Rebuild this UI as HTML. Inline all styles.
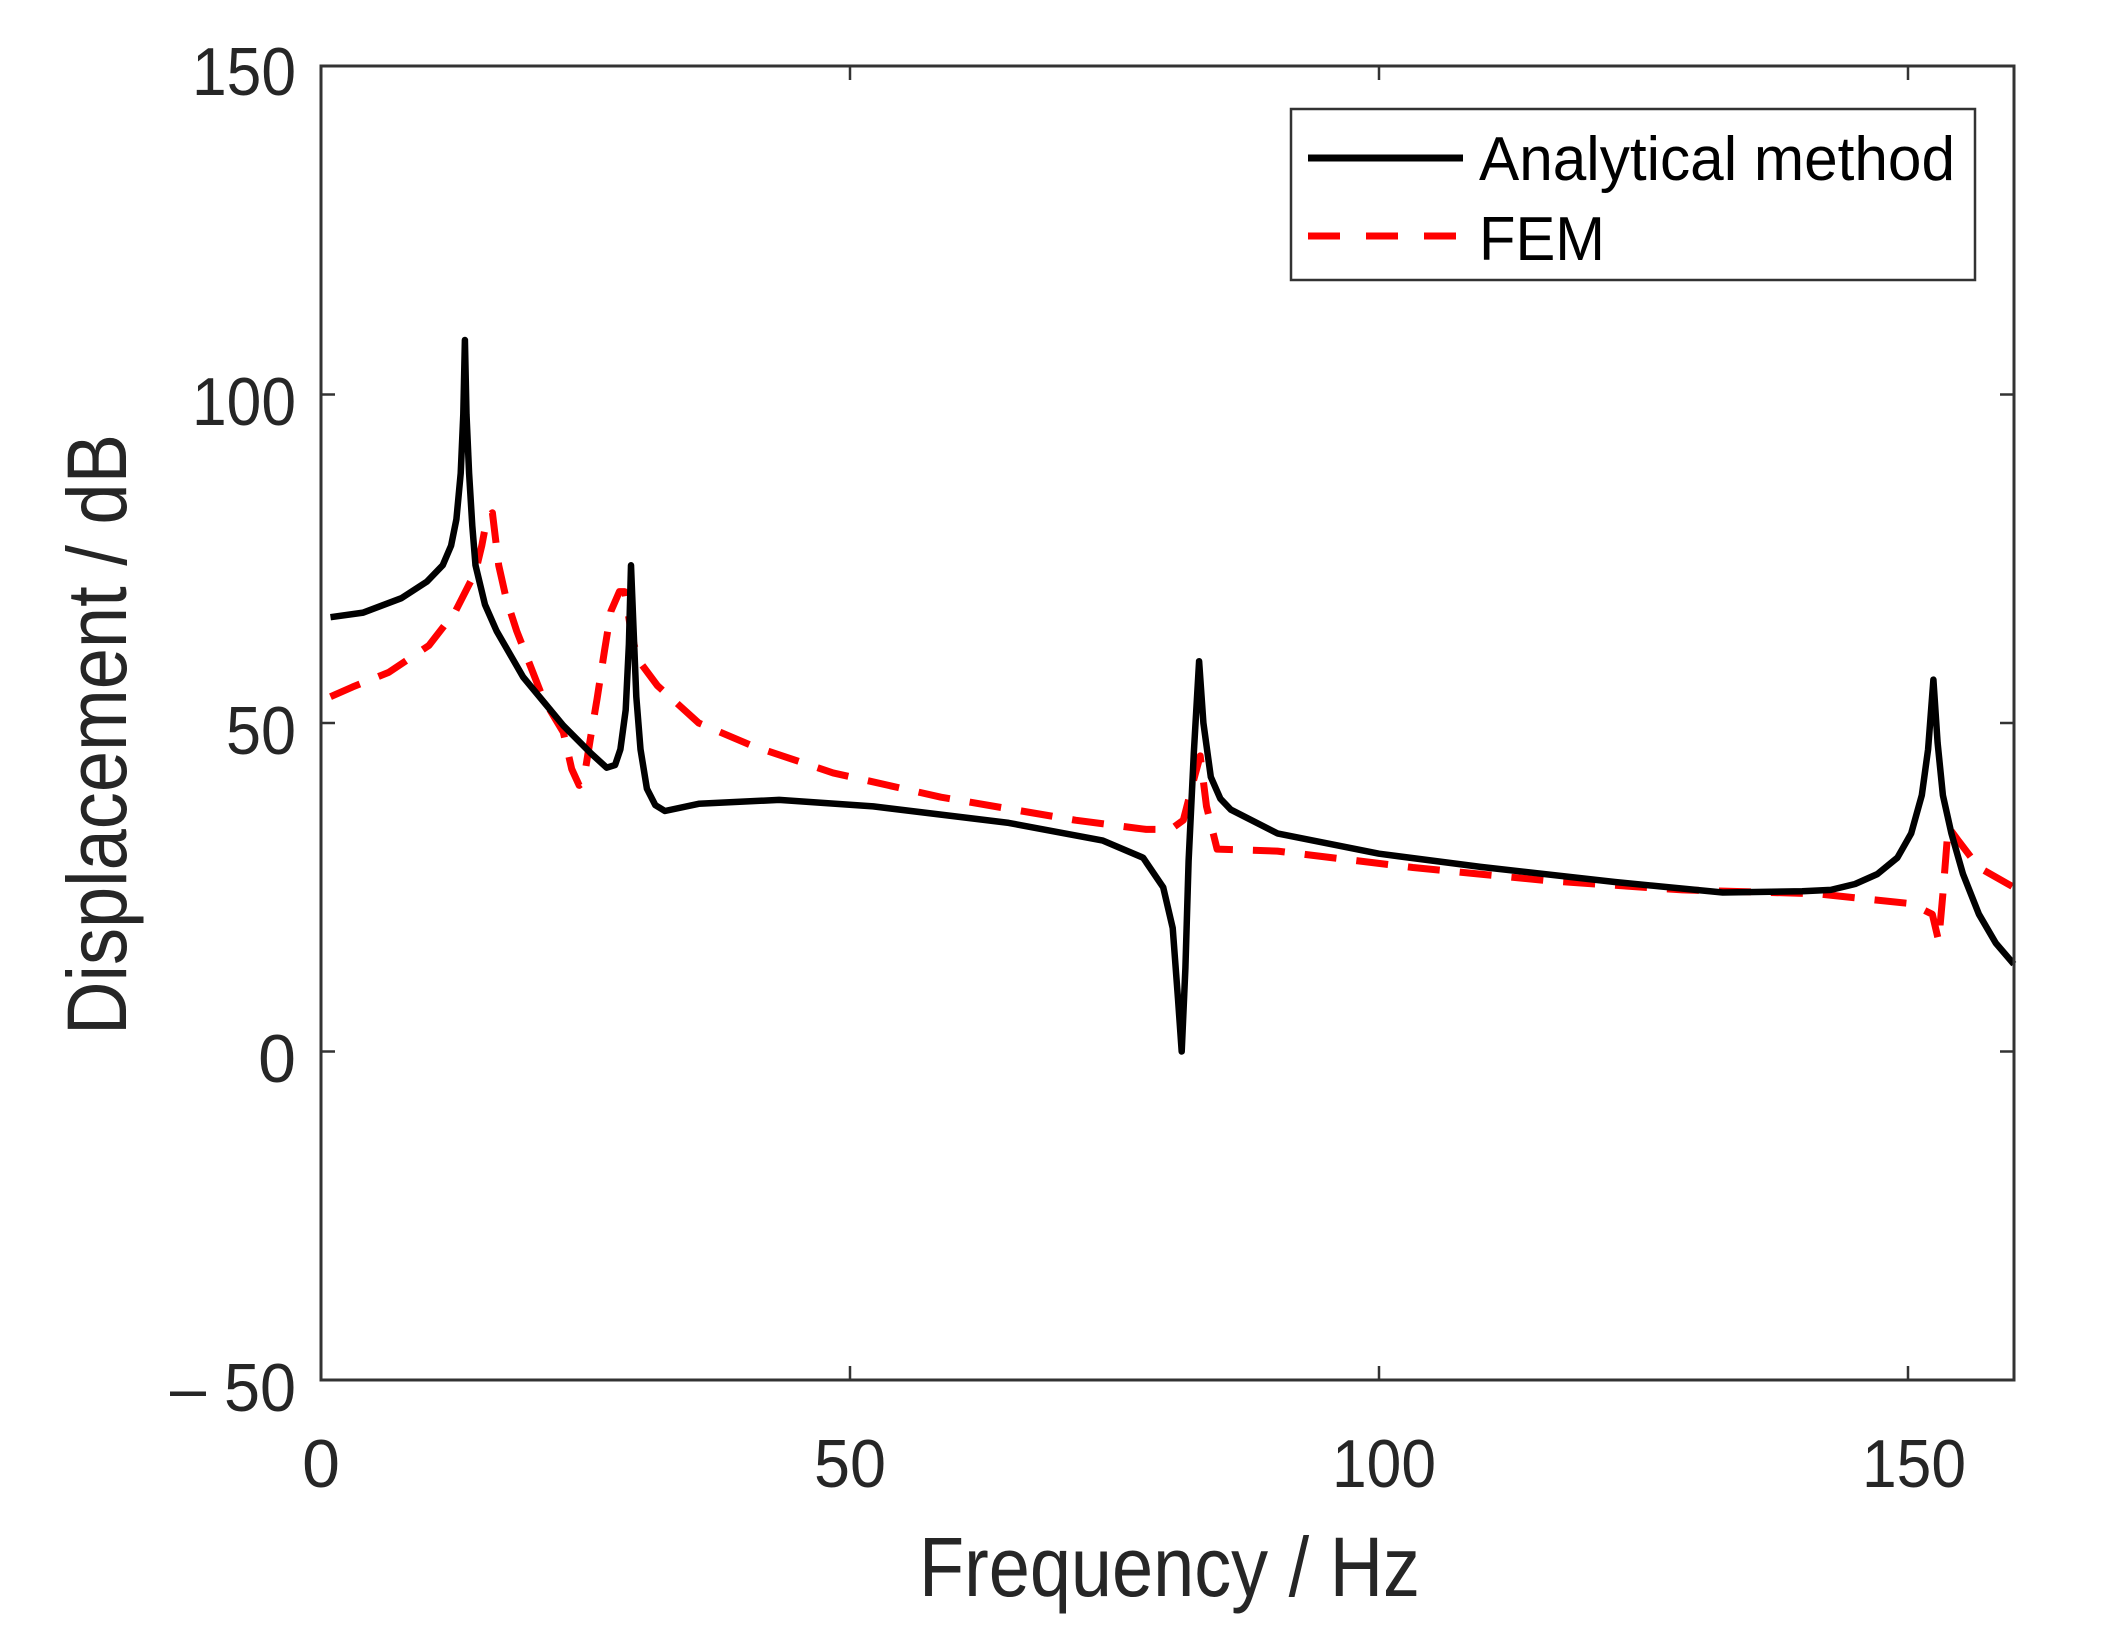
<!DOCTYPE html>
<html><head><meta charset="utf-8"><style>
html,body{margin:0;padding:0;background:#fff;}
svg{display:block;}
text{font-family:"Liberation Sans",Arial,sans-serif;fill:#262626;}
</style></head><body>
<svg id="s" width="2111" height="1630" viewBox="0 0 2111 1630" xmlns="http://www.w3.org/2000/svg">
<rect x="0" y="0" width="2111" height="1630" fill="#fff"/>
<g id="ticks" stroke="#333" stroke-width="2.5"></g>
<path id="red" fill="none" stroke="#ff0000" stroke-width="7" stroke-dasharray="32 20" stroke-linejoin="round"/>
<path id="blk" fill="none" stroke="#000" stroke-width="6.5" stroke-linejoin="round"/>
<rect x="321" y="66" width="1693" height="1314" fill="none" stroke="#333" stroke-width="3"/>
<text x="296" y="95" font-size="68" text-anchor="end" textLength="104" lengthAdjust="spacingAndGlyphs">150</text>
<text x="296" y="425" font-size="68" text-anchor="end" textLength="104" lengthAdjust="spacingAndGlyphs">100</text>
<text x="296" y="754" font-size="68" text-anchor="end" textLength="70" lengthAdjust="spacingAndGlyphs">50</text>
<text x="296" y="1082" font-size="68" text-anchor="end">0</text>
<text x="296" y="1411" font-size="68" text-anchor="end" textLength="126" lengthAdjust="spacingAndGlyphs">– 50</text>
<text x="321" y="1487" font-size="68" text-anchor="middle">0</text>
<text x="850" y="1487" font-size="68" text-anchor="middle" textLength="72" lengthAdjust="spacingAndGlyphs">50</text>
<text x="1384" y="1487" font-size="68" text-anchor="middle" textLength="104" lengthAdjust="spacingAndGlyphs">100</text>
<text x="1914" y="1487" font-size="68" text-anchor="middle" textLength="104" lengthAdjust="spacingAndGlyphs">150</text>
<text x="919" y="1596" font-size="84" textLength="501" lengthAdjust="spacingAndGlyphs">Frequency / Hz</text>
<text transform="translate(126,1035) rotate(-90)" font-size="84" textLength="601" lengthAdjust="spacingAndGlyphs">Displacement / dB</text>
<rect x="1291" y="109" width="684" height="171" fill="#fff" stroke="#333" stroke-width="2.5"/>
<line x1="1308" y1="158" x2="1463" y2="158" stroke="#000" stroke-width="7"/>
<line x1="1308" y1="236" x2="1463" y2="236" stroke="#ff0000" stroke-width="7" stroke-dasharray="32 26"/>
<text x="1479" y="180" font-size="62" style="fill:#000" textLength="476" lengthAdjust="spacingAndGlyphs">Analytical method</text>
<text x="1479" y="260" font-size="62" style="fill:#000" textLength="126" lengthAdjust="spacingAndGlyphs">FEM</text>
</svg>
<script>
function X(f){return 321+10.58*f;}
function Y(d){return 1380-6.57*(d+50);}
var blk=[[0.9,66.1],[4,66.8],[7.6,69],[10,71.5],[11.5,74],[12.3,77],[12.8,81],[13.2,88],[13.45,97],[13.6,108.3],[13.75,97],[14,88],[14.3,80],[14.6,74],[15.5,68],[16.6,64],[19.1,57],[22.9,49.6],[25.5,45.4],[27,43.2],[27.8,43.6],[28.3,46],[28.8,52],[29.1,62],[29.3,74],[29.5,66],[29.8,54],[30.2,46],[30.8,40],[31.6,37.5],[32.5,36.6],[35.7,37.7],[43.3,38.3],[52.2,37.3],[65,34.8],[73.9,32.1],[77.7,29.5],[79.6,25],[80.5,18.8],[81.0,8],[81.35,0],[81.7,12.7],[82.0,29],[82.5,45.4],[83.0,59.4],[83.4,50],[84.1,41.8],[85,38.5],[86,36.8],[90.4,33.2],[100,30.1],[109.6,28.1],[122.3,25.8],[132.5,24.2],[140,24.4],[142.7,24.6],[145,25.5],[147.1,27],[149,29.5],[150.3,33.2],[151.3,39],[151.9,46],[152.4,56.6],[152.8,47],[153.3,39],[154.1,33.2],[155.2,27],[156.7,20.9],[158.3,16.5],[160,13.3]];
var red=[[0.9,54],[3,55.5],[6.4,57.7],[10.2,61.8],[12.7,67],[14.6,73],[15.2,77],[15.7,81.3],[16.2,82],[16.8,74],[17.5,69],[18.5,64],[21,53.7],[22.9,48.6],[23.7,43],[24.4,40.5],[24.8,41],[25.5,48],[26.1,53.7],[26.8,61],[27.4,67],[28.2,70],[28.7,70],[29.3,64],[29.9,59.8],[31.8,55.7],[35.7,50],[40.8,46.5],[48.4,42.4],[58.6,38.7],[71.3,35.2],[78,33.8],[80.3,33.8],[81.5,35.2],[82.5,41.4],[83.1,45],[83.7,37.3],[84.7,30.8],[90.4,30.5],[103.2,28],[115.9,26],[128.7,24.6],[141.4,24],[150.3,22.5],[152.3,20.9],[152.9,16.8],[153.3,24],[153.8,34.2],[154.8,32],[156.7,28],[160,25]];
function path(a){return a.map(function(p,i){return (i?'L':'M')+X(p[0]).toFixed(1)+' '+Y(p[1]).toFixed(1);}).join(' ');}
document.getElementById('blk').setAttribute('d',path(blk));
document.getElementById('red').setAttribute('d',path(red));
var t='',L=14;
[-50,0,50,100,150].forEach(function(d){var y=Y(d);t+='M321 '+y+'h'+L+'M2014 '+y+'h-'+L;});
[0,50,100,150].forEach(function(f){var x=X(f);t+='M'+x+' 1380v-'+L+'M'+x+' 66v'+L;});
var g=document.getElementById('ticks');var p=document.createElementNS('http://www.w3.org/2000/svg','path');p.setAttribute('d',t);g.appendChild(p);
</script>
</body></html>
